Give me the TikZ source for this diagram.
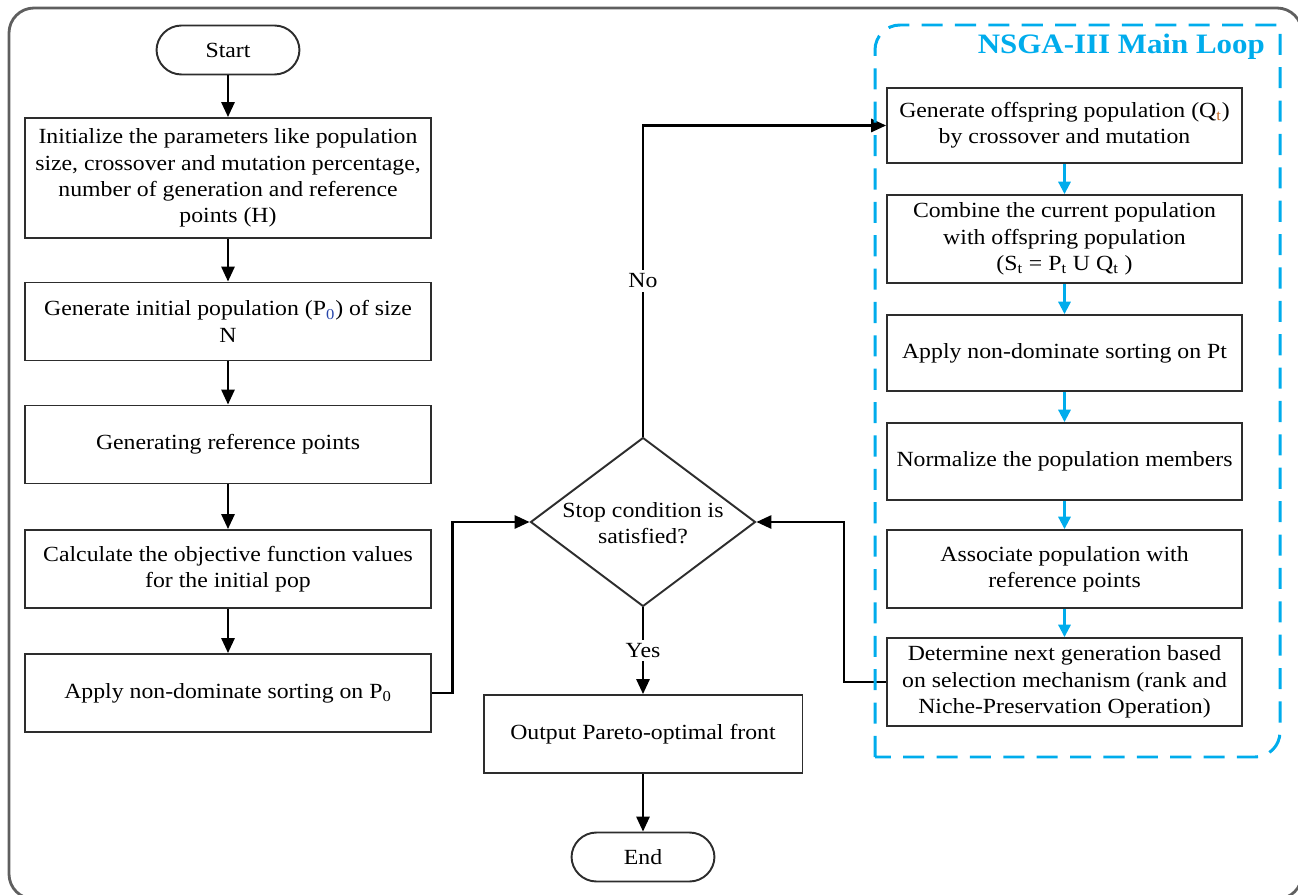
\documentclass[tikz,border=0pt]{standalone}
\usepackage{fontspec}
\setmainfont[FakeStretch=1.1]{Liberation Serif}
\usetikzlibrary{arrows.meta, shapes.geometric}

\definecolor{loopblue}{RGB}{0,172,236}
\definecolor{framegray}{RGB}{95,95,95}
\definecolor{boxline}{RGB}{45,45,45}
\definecolor{subblue}{RGB}{40,70,170}
\definecolor{suborange}{RGB}{200,110,40}

\tikzset{
  box/.style={draw=boxline, line width=1.1pt, align=center, inner sep=2pt,
    minimum height=1.56cm},
  leftbox/.style={box, minimum width=8.14cm},
  rightbox/.style={box, minimum width=7.1cm},
  terminal/.style={draw=boxline, line width=1.1pt, rounded corners=0.5cm,
    minimum width=2.86cm, minimum height=0.98cm},
  arr/.style={-{Triangle[length=8.5pt,width=7.5pt]}, line width=1.3pt},
  barr/.style={-{Triangle[length=7pt,width=7pt]}, line width=1.2pt, loopblue},
  lbl/.style={fill=white, inner sep=2pt}
}

\begin{document}
\begin{tikzpicture}[x=0.02cm, y=-0.02cm, font=\fontsize{12.3}{15}\selectfont, line cap=butt]
  \useasboundingbox (0,0) rectangle (1298,895);
  % Outer frame, runs off the right and bottom edges.
  \begin{scope}
    \clip (0,0) rectangle (1298,895);
    \draw[framegray, line width=1.6pt, rounded corners=0.5cm] (9,8) rectangle (1302,899);
  \end{scope}

  % Left column.
  \node[terminal] (start) at (228,50) {Start};
  \node[leftbox, minimum height=2.4cm] (init) at (228,178)
    {Initialize the parameters like population\\size, crossover and mutation percentage,\\number of generation and reference\\points (H)};
  \node[leftbox] (initpop) at (228,321.5)
    {Generate initial population (P\textsubscript{\textcolor{subblue}{0}}) of size\\N};
  \node[leftbox] (refpts) at (228,444.5) {Generating reference points};
  \node[leftbox] (objfun) at (228,569)
    {Calculate the objective function values\\for the initial pop};
  \node[leftbox] (sortp) at (228,693) {Apply non-dominate sorting on P\textsubscript{0}};

  % Middle column.
  \node[diamond, draw=boxline, line width=1.1pt, minimum width=4.5cm,
    minimum height=3.38cm, inner sep=0pt] (stopcond) at (643,522) {};
  \node[align=center] (stoptext) at (643,523) {Stop condition is\\satisfied?};
  \node[box, minimum width=6.38cm] (output) at (643,734) {Output Pareto-optimal front};
  \node[terminal] (finish) at (643,857) {End};

  % Right column (main loop).
  \node[rightbox, minimum height=1.5cm] (offspring) at (1064.5,125.5)
    {Generate offspring population (Q\textsubscript{\textcolor{suborange}{t}})\\by crossover and mutation};
  \node[rightbox, minimum height=1.76cm] (combine) at (1064.5,239)
    {Combine the current population\\with offspring population\\(S\textsubscript{t} = P\textsubscript{t} U Q\textsubscript{t} )};
  \node[rightbox, minimum height=1.52cm] (sortpt) at (1064.5,353) {Apply non-dominate sorting on Pt};
  \node[rightbox, minimum height=1.54cm] (normalize) at (1064.5,461.5) {Normalize the population members};
  \node[rightbox] (associate) at (1064.5,569) {Associate population with\\reference points};
  \node[rightbox, minimum height=1.76cm] (nextgen) at (1064.5,682)
    {Determine next generation based\\on selection mechanism (rank and\\Niche-Preservation Operation)};

  % Connectors.
  \draw[arr] (start) -- (init);
  \draw[arr] (init) -- (initpop);
  \draw[arr] (initpop) -- (refpts);
  \draw[arr] (refpts) -- (objfun);
  \draw[arr] (objfun) -- (sortp);
  \draw[arr] (sortp.east) -- ++(20,0) |- (stopcond.west);
  \draw[arr] (stopcond.south) -- node[lbl] {Yes} (output.north);
  \draw[arr] (output) -- (finish);
  \draw[arr] (stopcond.north) |- node[lbl, pos=0.25] {No} (offspring.west);
  \draw[arr] (nextgen.west) -- ++(-42,0) |- (stopcond.east);
  \foreach \a/\b in {offspring/combine, combine/sortpt, sortpt/normalize,
                     normalize/associate, associate/nextgen}
    \draw[barr] (\a) -- (\b);

  % Dashed loop frame.
  \draw[loopblue, line width=1.7pt, dash pattern=on 12pt off 7pt]
    (875,757) -- (875,50) arc[start angle=180, end angle=90, radius=0.5cm]
    -- (1280,25) -- (1280,732) arc[start angle=0, end angle=-90, radius=0.5cm]
    -- cycle;
  \node[loopblue, font=\fontsize{16}{18}\selectfont\bfseries, anchor=east]
    (looptitle) at (1271,47) {NSGA-III Main Loop};
\end{tikzpicture}
\end{document}
